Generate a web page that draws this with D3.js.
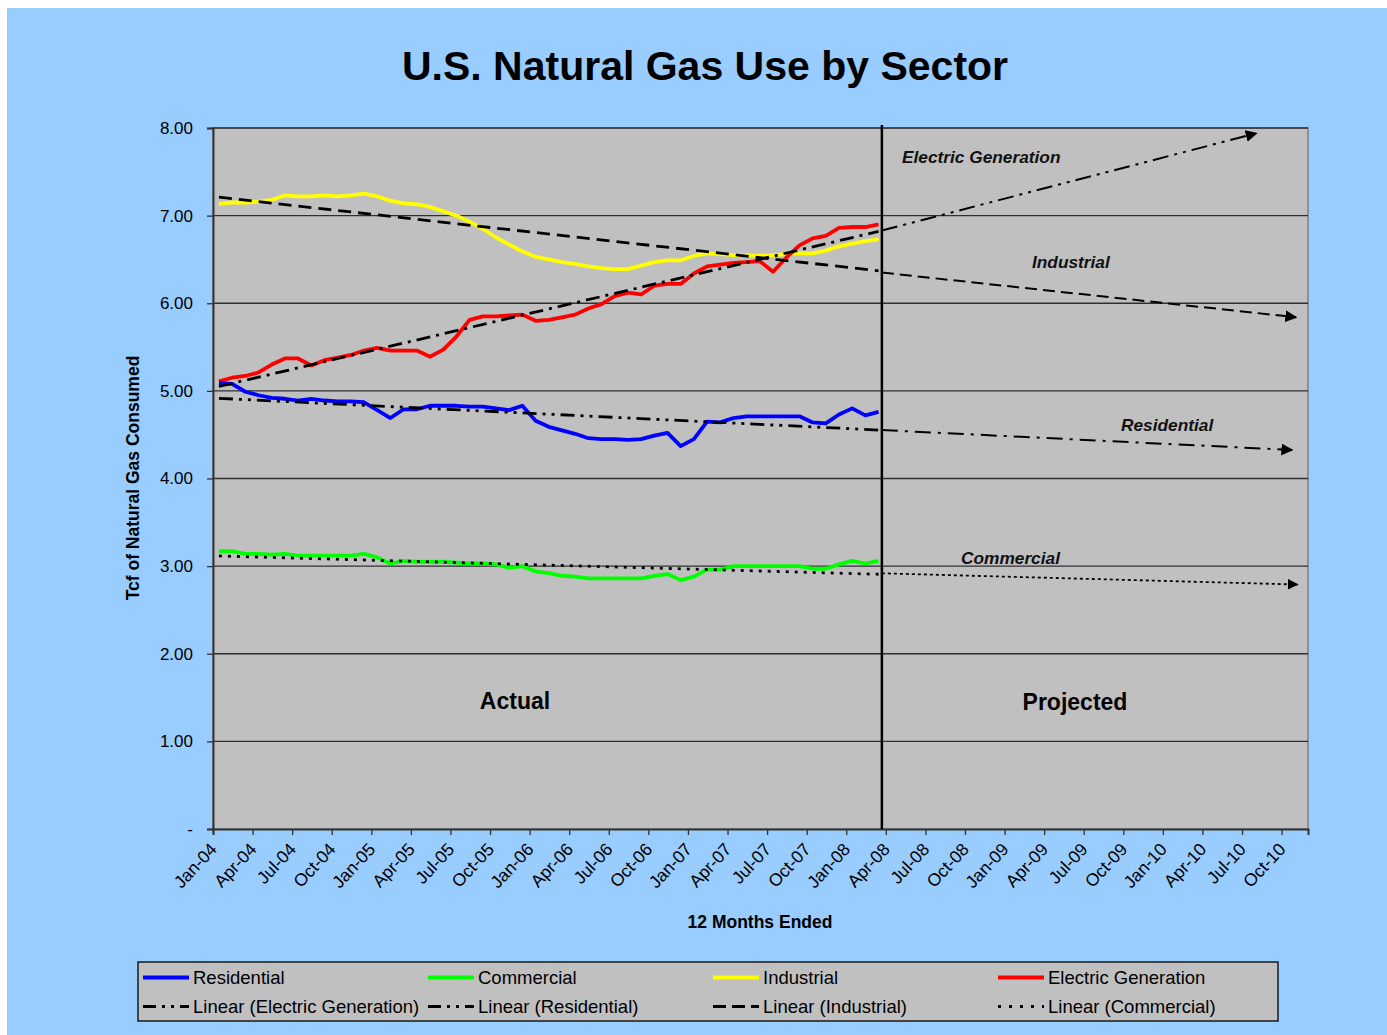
<!DOCTYPE html>
<html>
<head>
<meta charset="utf-8">
<script src="https://cdn.jsdelivr.net/npm/d3@7"></script>
<style>
  html, body { margin: 0; padding: 0; background: #ffffff; }
  svg { display: block; font-family: "Liberation Sans", Arial, sans-serif; }
</style>
</head>
<body>
<svg id="chart" width="1387" height="1035"></svg>
<script>
// ---------------- DATA ----------------
const title = "U.S. Natural Gas Use by Sector";
const yAxisTitle = "Tcf of Natural Gas Consumed";
const xAxisTitle = "12 Months Ended";

// Tick labels (quarterly), month index 0 = Jan-04
const tickLabels = ["Jan-04","Apr-04","Jul-04","Oct-04","Jan-05","Apr-05","Jul-05","Oct-05",
  "Jan-06","Apr-06","Jul-06","Oct-06","Jan-07","Apr-07","Jul-07","Oct-07",
  "Jan-08","Apr-08","Jul-08","Oct-08","Jan-09","Apr-09","Jul-09","Oct-09",
  "Jan-10","Apr-10","Jul-10","Oct-10"];
const yTicks = [0, 1, 2, 3, 4, 5, 6, 7, 8];

// Monthly values, Jan-04 .. Mar-08 (51 points)
const residential = [5.09,5.08,4.99,4.95,4.92,4.91,4.89,4.91,4.89,4.88,4.88,4.87,4.78,4.69,4.79,4.79,4.83,4.83,4.83,4.82,4.82,4.80,4.78,4.83,4.66,4.59,
  4.55,4.51,4.46,4.45,4.45,4.44,4.45,4.49,4.52,4.37,4.45,4.65,4.64,4.69,4.71,4.71,4.71,4.71,4.71,4.64,4.63,4.73,4.80,4.72,4.76];
const commercial = [3.17,3.17,3.14,3.14,3.13,3.14,3.12,3.12,3.12,3.12,3.12,3.14,3.10,3.03,3.06,3.05,3.05,3.05,3.04,3.03,3.03,3.02,2.98,3.00,2.94,2.92,
  2.89,2.88,2.86,2.86,2.86,2.86,2.86,2.89,2.91,2.84,2.88,2.96,2.96,3.00,3.00,3.00,3.00,3.00,3.00,2.97,2.97,3.02,3.06,3.03,3.06];
const industrial = [7.13,7.15,7.15,7.16,7.18,7.23,7.22,7.22,7.23,7.22,7.23,7.25,7.22,7.17,7.14,7.13,7.10,7.05,7.00,6.93,6.85,6.75,6.67,6.59,6.53,6.50,
  6.47,6.45,6.42,6.40,6.39,6.39,6.43,6.47,6.49,6.49,6.54,6.57,6.56,6.55,6.55,6.54,6.55,6.56,6.57,6.57,6.60,6.65,6.68,6.71,6.73];
const electric = [5.11,5.15,5.17,5.21,5.30,5.37,5.37,5.29,5.35,5.38,5.41,5.46,5.49,5.46,5.46,5.46,5.39,5.47,5.62,5.81,5.85,5.85,5.86,5.87,5.80,5.81,
  5.84,5.87,5.94,5.99,6.08,6.12,6.10,6.20,6.22,6.22,6.34,6.42,6.44,6.46,6.47,6.48,6.36,6.52,6.66,6.74,6.77,6.86,6.87,6.87,6.90];

// Linear trendlines over the actual period (value at first and last month)
const trendNames   = ["Electric Generation","Residential","Industrial","Commercial"];
const trendStart   = [5.05, 4.915, 7.21, 3.116];
const trendEnd     = [6.82, 4.553, 6.37, 2.907];
// Projection arrows: start at projection line, end at arrow tip (month index, value)
const arrowStartVal = [6.83, 4.553, 6.35, 2.918];
const arrowEndMonth = [79.1, 81.8, 82.1, 82.2];
const arrowEndVal   = [7.94, 4.325, 5.84, 2.79];

const projectionMonth = 50.7;   // vertical divider (Apr-08)
const dataOffset = 0.45;        // points plotted within each month

// ---------------- LAYOUT ----------------
const svg = d3.select("#chart");
const L = 213, R = 1308, T = 128, B = 829;

const x = d3.scaleLinear().domain([0, 83]).range([L, R]);
const y = d3.scaleLinear().domain([0, 8]).range([B, T]);

// blue background
svg.append("rect").attr("x", 7).attr("y", 8).attr("width", 1380).attr("height", 1027).attr("fill", "#99CCFF");

// plot area
svg.append("rect").attr("x", L).attr("y", T).attr("width", R - L).attr("height", B - T)
  .attr("fill", "#C0C0C0").attr("stroke", "#808080").attr("stroke-width", 1.5);

// gridlines
svg.append("g").selectAll("line").data(yTicks.filter(d => d > 0)).join("line")
  .attr("x1", L).attr("x2", R).attr("y1", d => y(d)).attr("y2", d => y(d))
  .attr("stroke", "#303030").attr("stroke-width", 1.3);

// Y axis
const yAxis = d3.axisLeft(y).tickValues(yTicks).tickSize(6).tickPadding(14)
  .tickFormat(d => d === 0 ? "-" : d3.format(".2f")(d));
const gy = svg.append("g").attr("transform", `translate(${L},0)`).call(yAxis);
gy.select(".domain").attr("stroke", "#333").attr("stroke-width", 2);
gy.selectAll(".tick line").attr("stroke", "#333").attr("stroke-width", 1.3);
gy.selectAll(".tick text").attr("font-size", 17).attr("fill", "#000")
  .attr("font-family", "'Liberation Sans', Arial, sans-serif");

// X axis
const monthIdx = tickLabels.map((d, i) => i * 3);
const xAxis = d3.axisBottom(x).tickValues(monthIdx).tickSize(6).tickFormat((d, i) => tickLabels[i]);
const gx = svg.append("g").attr("transform", `translate(0,${B})`).call(xAxis);
gx.select(".domain").attr("stroke", "#333").attr("stroke-width", 2);
gx.selectAll(".tick line").attr("stroke", "#333").attr("stroke-width", 1.3);
gx.selectAll(".tick text")
  .attr("font-size", 17.5).attr("fill", "#000")
  .attr("font-family", "'Liberation Sans', Arial, sans-serif")
  .attr("text-anchor", "end")
  .attr("transform", "translate(0,17) rotate(-47)")
  .attr("dy", "0.35em").attr("y", 0).attr("x", 0);

// data lines
const series = [
  { name: "Residential", values: residential, color: "#0000FF" },
  { name: "Commercial", values: commercial, color: "#00FF00" },
  { name: "Industrial", values: industrial, color: "#FFFF00" },
  { name: "Electric Generation", values: electric, color: "#FF0000" }
];
const line = d3.line().x((d, i) => x(i + dataOffset)).y(d => y(d));

// trendline styles
const trendStyles = {
  "Electric Generation": { dash: "14,6,3,6", arrowDash: "16,6,3,6,3,6" },
  "Residential": { dash: "14,6,3,6,3,6", arrowDash: "16,7,3,7" },
  "Industrial": { dash: "13,7", arrowDash: "12,6" },
  "Commercial": { dash: "3,6", arrowDash: "3,3" }
};

// plot order: industrial, electric, residential, commercial lines, then trendlines
const plotG = svg.append("g");
[series[2], series[3], series[0], series[1]].forEach(s => {
  plotG.append("path").datum(s.values).attr("d", line)
    .attr("fill", "none").attr("stroke", s.color).attr("stroke-width", 3.8)
    .attr("stroke-linejoin", "round");
});

const lastIdx = residential.length - 1;
trendNames.forEach((n, k) => {
  plotG.append("line")
    .attr("x1", x(dataOffset)).attr("y1", y(trendStart[k]))
    .attr("x2", x(lastIdx + dataOffset)).attr("y2", y(trendEnd[k]))
    .attr("stroke", "#000").attr("stroke-width", 2.8)
    .attr("stroke-dasharray", trendStyles[n].dash);
});

// arrow marker
const defs = svg.append("defs");
defs.append("marker").attr("id", "arrow").attr("viewBox", "0 0 10 10")
  .attr("refX", 9).attr("refY", 5).attr("markerWidth", 6).attr("markerHeight", 6)
  .attr("markerUnits", "strokeWidth").attr("orient", "auto")
  .append("path").attr("d", "M0,0 L10,5 L0,10 Z").attr("fill", "#000");

trendNames.forEach((n, k) => {
  plotG.append("line")
    .attr("x1", x(projectionMonth)).attr("y1", y(arrowStartVal[k]))
    .attr("x2", x(arrowEndMonth[k])).attr("y2", y(arrowEndVal[k]))
    .attr("stroke", "#000").attr("stroke-width", n === "Commercial" ? 1.8 : 2)
    .attr("stroke-dasharray", trendStyles[n].arrowDash)
    .attr("marker-end", "url(#arrow)");
});

// projection divider
svg.append("line").attr("x1", x(projectionMonth)).attr("x2", x(projectionMonth))
  .attr("y1", T - 3).attr("y2", B).attr("stroke", "#000").attr("stroke-width", 2.5);

// annotations
const ann = [
  { t: "Electric Generation", x: 902, y: 163 },
  { t: "Industrial", x: 1032, y: 268 },
  { t: "Residential", x: 1121, y: 431 },
  { t: "Commercial", x: 961, y: 564 }
];
svg.append("g").selectAll("text").data(ann).join("text")
  .attr("x", d => d.x).attr("y", d => d.y).text(d => d.t)
  .attr("font-size", 17.3).attr("font-weight", "bold").attr("font-style", "italic").attr("fill", "#111");

svg.append("text").attr("x", 515).attr("y", 709).attr("text-anchor", "middle")
  .attr("font-size", 23).attr("font-weight", "bold").text("Actual");
svg.append("text").attr("x", 1075).attr("y", 710).attr("text-anchor", "middle")
  .attr("font-size", 23).attr("font-weight", "bold").text("Projected");

// titles
svg.append("text").attr("x", 705).attr("y", 80).attr("text-anchor", "middle")
  .attr("font-size", 41).attr("font-weight", "bold").text(title);
svg.append("text").attr("transform", "translate(139,478) rotate(-90)").attr("text-anchor", "middle")
  .attr("font-size", 17.5).attr("font-weight", "bold").text(yAxisTitle);
svg.append("text").attr("x", 760).attr("y", 928).attr("text-anchor", "middle")
  .attr("font-size", 17.5).attr("font-weight", "bold").text(xAxisTitle);

// legend
svg.append("rect").attr("x", 138).attr("y", 962).attr("width", 1140).attr("height", 59)
  .attr("fill", "#C0C0C0").attr("stroke", "#000").attr("stroke-width", 1.3);
const colX = [143, 428, 713, 998];
const legendItems = [
  { label: "Residential", color: "#0000FF", dash: null, w: 3.8, col: 0, row: 0 },
  { label: "Commercial", color: "#00FF00", dash: null, w: 3.8, col: 1, row: 0 },
  { label: "Industrial", color: "#FFFF00", dash: null, w: 3.8, col: 2, row: 0 },
  { label: "Electric Generation", color: "#FF0000", dash: null, w: 3.8, col: 3, row: 0 },
  { label: "Linear (Electric Generation)", color: "#000", dash: "13,6,3,6,3,6", w: 2.8, col: 0, row: 1 },
  { label: "Linear (Residential)", color: "#000", dash: "13,6,3,6,3,6", w: 2.8, col: 1, row: 1 },
  { label: "Linear (Industrial)", color: "#000", dash: "13,6", w: 2.8, col: 2, row: 1 },
  { label: "Linear (Commercial)", color: "#000", dash: "3,8", w: 2.8, col: 3, row: 1 }
];
const rowY = [977.5, 1006.5];
const lg = svg.append("g");
legendItems.forEach(it => {
  const x0 = colX[it.col], yy = rowY[it.row];
  lg.append("line").attr("x1", x0).attr("x2", x0 + 46).attr("y1", yy).attr("y2", yy)
    .attr("stroke", it.color).attr("stroke-width", it.w)
    .attr("stroke-dasharray", it.dash);
  lg.append("text").attr("x", x0 + 50).attr("y", yy).attr("dy", "0.36em")
    .attr("font-size", 18.5).attr("fill", "#000").text(it.label);
});
</script>
</body>
</html>
